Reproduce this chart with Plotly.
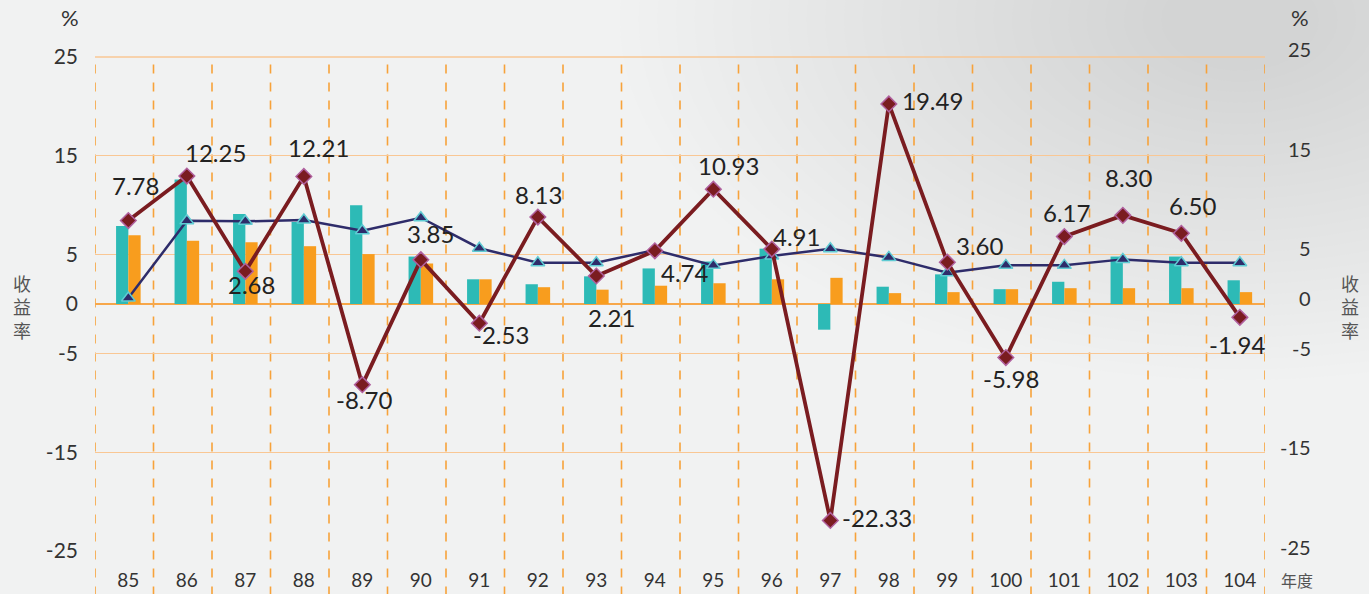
import plotly.graph_objects as go

years = ["85", "86", "87", "88", "89", "90", "91", "92", "93", "94",
         "95", "96", "97", "98", "99", "100", "101", "102", "103", "104"]

# Red line (labelled returns)
fund_return = [7.78, 12.25, 2.68, 12.21, -8.70, 3.85, -2.53, 8.13, 2.21, 4.74,
               10.93, 4.91, -22.33, 19.49, 3.60, -5.98, 6.17, 8.30, 6.50, -1.94]
# Blue line (triangles)
blue_line = [0.0, 7.76, 7.70, 7.83, 6.76, 8.06, 5.00, 3.55, 3.55, 4.82,
             3.28, 4.22, 4.95, 4.08, 2.54, 3.28, 3.28, 3.88, 3.55, 3.55]
# Teal bars
teal_bars = [7.9, 12.6, 9.1, 8.3, 10.0, 4.8, 2.5, 2.0, 2.8, 3.6,
             4.3, 5.6, -2.6, 1.75, 3.0, 1.5, 2.25, 4.8, 4.8, 2.4]
# Orange bars
orange_bars = [6.95, 6.4, 6.25, 5.85, 5.05, 4.1, 2.5, 1.7, 1.45, 1.85,
               2.1, 2.5, 2.65, 1.1, 1.2, 1.5, 1.6, 1.6, 1.6, 1.2]

left_ticks = [25, 15, 5, 0, -5, -15, -25]
right_ticks = [25, 15, 5, 0, -5, -15, -25]

# label offsets (px) for the red line value labels
label_dx = [7, 29, 6, 15, 2, 10, 22, 1, 15, 30, 15, 25, 47, 44, 33, 5, 2, 6, 12, -3]
label_dy = [35, 24, -13, 29, -15, 26, -11, 23, -41, -22, 24, 13, 3, 3, 17, -21, 24, 38, 28, -27]

TEAL = "#2DBAB6"
ORANGE = "#F89D1E"
RED = "#7A1C20"
NAVY = "#2E2C6A"
GRID = "#F9C794"
TXT = "#333333"
FONT = "Lato"

Y2_RANGE = [-25.4, 24.2]
X_RANGE = [-0.57, 19.43]

L, T, PW, PH = 95, 57, 1170, 494


def px_x(px):
    return (px - L) / PW


def px_y(py):
    return (T + PH - py) / PH


fig = go.Figure()
fig.add_trace(go.Bar(x=years, y=teal_bars, marker=dict(color=TEAL, line=dict(width=0)),
                     name="teal", showlegend=False))
fig.add_trace(go.Bar(x=years, y=orange_bars, marker=dict(color=ORANGE, line=dict(width=0)),
                     name="orange", showlegend=False))
fig.add_trace(go.Scatter(x=years, y=blue_line, yaxis="y2", mode="lines+markers",
                         line=dict(color=NAVY, width=2.5),
                         marker=dict(symbol="triangle-up", size=12, color=NAVY,
                                     line=dict(color="#5FCBD3", width=1.5)),
                         showlegend=False, cliponaxis=False))
fig.add_trace(go.Scatter(x=years, y=fund_return, yaxis="y2", mode="lines+markers",
                         line=dict(color=RED, width=3.8),
                         marker=dict(symbol="diamond", size=12, color=RED,
                                     line=dict(color="#B0609E", width=1.5)),
                         showlegend=False, cliponaxis=False))

shapes = []
# soft cloudy backdrop in the upper right (decoration)
N = 30
for k in range(N):
    f = k / N
    rx = 560 * (1 - f) + 60
    ry = 320 * (1 - f) + 40
    cx, cy = 1240, 20
    shapes.append(dict(type="circle", xref="paper", yref="paper",
                       x0=px_x(cx - rx), x1=px_x(cx + rx), y0=px_y(cy + ry), y1=px_y(cy - ry),
                       fillcolor="#b0b5b0", opacity=0.016, line=dict(width=0), layer="below"))
# vertical dashed separators + top frame line
for i in range(-1, 20):
    shapes.append(dict(type="line", xref="x", yref="paper", x0=i + 0.43, x1=i + 0.43,
                       y0=-0.09, y1=1, line=dict(color="#F7A23A", width=1.6, dash="dash"),
                       layer="below"))
shapes.append(dict(type="line", xref="paper", yref="paper", x0=0, x1=1, y0=1, y1=1,
                   line=dict(color=GRID, width=1.5), layer="below"))

annotations = []
for i, v in enumerate(fund_return):
    annotations.append(dict(x=i, y=v, xref="x", yref="y2", text=f"{v:.2f}",
                            showarrow=False, xshift=label_dx[i], yshift=label_dy[i],
                            xanchor="center", yanchor="middle",
                            font=dict(family=FONT, size=24, color="#222222")))


def y2_paper(v):
    return (v - Y2_RANGE[0]) / (Y2_RANGE[1] - Y2_RANGE[0])


# right axis labels (right-aligned)
for t in right_ticks:
    annotations.append(dict(x=px_x(1313), y=y2_paper(t), xref="paper", yref="paper",
                            text=str(t), showarrow=False, xanchor="right", yanchor="middle",
                            font=dict(family=FONT, size=20, color=TXT)))

annotations += [
    dict(x=px_x(70), y=px_y(18), xref="paper", yref="paper", text="%", showarrow=False,
         xanchor="center", yanchor="middle", font=dict(family=FONT, size=22, color=TXT)),
    dict(x=px_x(1300), y=px_y(18), xref="paper", yref="paper", text="%", showarrow=False,
         xanchor="center", yanchor="middle", font=dict(family=FONT, size=22, color=TXT)),
    dict(x=px_x(22), y=px_y(306), xref="paper", yref="paper", text="收<br>益<br>率",
         showarrow=False, xanchor="center", yanchor="middle",
         font=dict(family="Noto Sans CJK TC", size=18, color="#555555")),
    dict(x=px_x(1350), y=px_y(306), xref="paper", yref="paper", text="收<br>益<br>率",
         showarrow=False, xanchor="center", yanchor="middle",
         font=dict(family="Noto Sans CJK TC", size=18, color="#555555")),
    dict(x=px_x(1297), y=px_y(580), xref="paper", yref="paper", text="年度", showarrow=False,
         xanchor="center", yanchor="middle",
         font=dict(family="Noto Sans CJK TC", size=16, color="#555555")),
]

fig.update_layout(
    width=1369, height=594,
    margin=dict(l=95, r=104, t=57, b=43, autoexpand=False),
    paper_bgcolor="#F1F2F2", plot_bgcolor="rgba(0,0,0,0)",
    barmode="group", bargap=0.58, bargroupgap=0,
    shapes=shapes, annotations=annotations,
    xaxis=dict(type="category", range=X_RANGE, showgrid=False, zeroline=False,
               showline=False, ticks="", ticklabelstandoff=16, automargin=False,
               tickfont=dict(family=FONT, size=19, color=TXT)),
    yaxis=dict(range=[-25, 25], tickvals=left_ticks, ticktext=[str(t) for t in left_ticks],
               showgrid=True, gridcolor=GRID, gridwidth=1.2, automargin=False,
               zeroline=True, zerolinecolor="#F7A74A", zerolinewidth=2,
               showline=False, ticks="", ticklabelstandoff=16,
               tickfont=dict(family=FONT, size=21, color=TXT)),
    yaxis2=dict(range=Y2_RANGE, overlaying="y", side="right", showgrid=False,
                zeroline=False, showticklabels=False, showline=False, automargin=False),
)

fig.write_html("out.html", config={"displayModeBar": False},
               post_script="document.body.style.margin='0';document.body.style.overflow='hidden';")
